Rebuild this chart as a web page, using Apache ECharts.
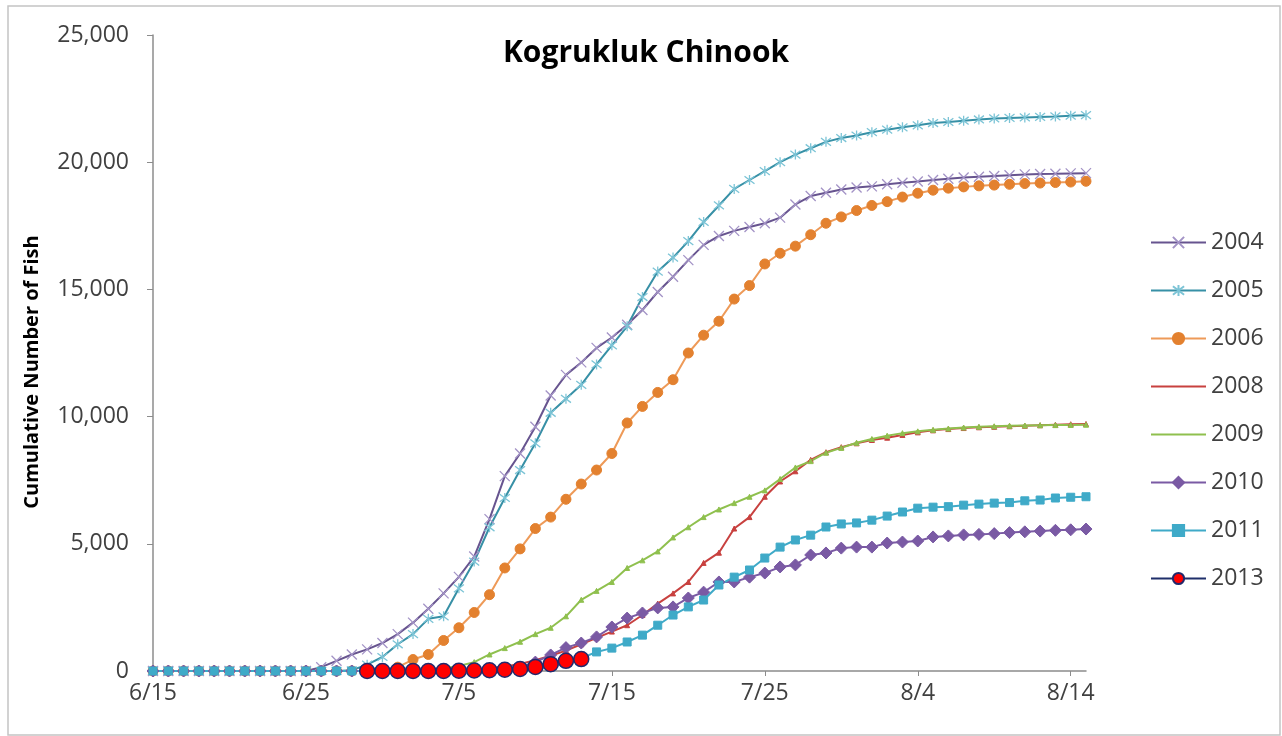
<!DOCTYPE html>
<html>
<head>
<meta charset="utf-8">
<title>Kogrukluk Chinook</title>
<script src="https://cdn.jsdelivr.net/npm/echarts@6.0.0/dist/echarts.min.js"></script>
<style>
  html, body { margin: 0; padding: 0; background: #fff; }
  #chart { width: 1282px; height: 736px; }
</style>
</head>
<body>
<div id="chart"></div>
<script>
// daily categories 6/15 .. 8/15
const dates = [
  "6/15", "6/16", "6/17", "6/18", "6/19", "6/20", "6/21", "6/22", "6/23", "6/24",
  "6/25", "6/26", "6/27", "6/28", "6/29", "6/30", "7/1", "7/2", "7/3", "7/4",
  "7/5", "7/6", "7/7", "7/8", "7/9", "7/10", "7/11", "7/12", "7/13", "7/14",
  "7/15", "7/16", "7/17", "7/18", "7/19", "7/20", "7/21", "7/22", "7/23", "7/24",
  "7/25", "7/26", "7/27", "7/28", "7/29", "7/30", "7/31", "8/1", "8/2", "8/3",
  "8/4", "8/5", "8/6", "8/7", "8/8", "8/9", "8/10", "8/11", "8/12", "8/13",
  "8/14", "8/15",
];

const years = ["2004", "2005", "2006", "2008", "2009", "2010", "2011", "2013"];

const y2004 = [
  0, 0, 0, 0, 0, 0, 0, 0, 0, 0,
  0, 150, 400, 650, 850, 1100, 1450, 1900, 2450, 3050,
  3700, 4500, 5970, 7660, 8550, 9600, 10830, 11640, 12130, 12700,
  13110, 13610, 14190, 14900, 15500, 16150, 16750, 17100, 17300, 17450,
  17600, 17820, 18340, 18670, 18800, 18930, 19005, 19050, 19130, 19190,
  19240, 19300, 19350, 19400, 19430, 19460, 19490, 19520, 19535, 19545,
  19560, 19570,
];
const y2005 = [
  0, 0, 0, 0, 0, 0, 0, 0, 0, 0,
  0, 0, 0, 30, 250, 550, 1050, 1450, 2050, 2150,
  3250, 4300, 5650, 6800, 7900, 8950, 10150, 10700, 11250, 12050,
  12800, 13550, 14700, 15700, 16250, 16900, 17650, 18300, 18950, 19300,
  19650, 20000, 20300, 20550, 20800, 20950, 21050, 21180, 21280, 21370,
  21450, 21540, 21580, 21630, 21680, 21720, 21740, 21760, 21780, 21800,
  21830, 21850,
];
const y2006 = [
  0, 0, 0, 0, 0, 0, 0, 0, 0, 0,
  0, 0, 0, 0, 0, 0, 150, 450, 650, 1200,
  1700, 2300, 3000, 4050, 4800, 5600, 6050, 6750, 7350, 7900,
  8550, 9750, 10400, 10950, 11450, 12500, 13200, 13750, 14620, 15150,
  16000, 16420, 16700, 17150, 17600, 17850, 18100, 18300, 18450, 18630,
  18780, 18900, 18980, 19030, 19070, 19100, 19130, 19160, 19180, 19200,
  19220, 19250,
];
const y2008 = [
  0, 0, 0, 0, 0, 0, 0, 0, 0, 0,
  0, 0, 0, 0, 0, 0, 0, 0, 0, 0,
  30, 60, 100, 180, 280, 420, 600, 800, 1050, 1300,
  1550, 1800, 2200, 2650, 3050, 3500, 4250, 4650, 5600, 6050,
  6850, 7450, 7850, 8300, 8600, 8800, 8950, 9080, 9170, 9280,
  9380, 9460, 9510, 9550, 9580, 9600, 9620, 9640, 9660, 9680,
  9700, 9710,
];
const y2009 = [
  0, 0, 0, 0, 0, 0, 0, 0, 0, 0,
  0, 0, 0, 0, 0, 0, 0, 0, 50, 100,
  200, 350, 650, 900, 1150, 1450, 1700, 2150, 2800, 3150,
  3500, 4050, 4350, 4700, 5250, 5650, 6050, 6350, 6600, 6850,
  7100, 7550, 8000, 8250, 8580, 8770, 8970, 9120, 9250, 9350,
  9420, 9480, 9530, 9570, 9600, 9620, 9640, 9650, 9660, 9665,
  9670, 9680,
];
const y2010 = [
  0, 0, 0, 0, 0, 0, 0, 0, 0, 0,
  0, 0, 0, 0, 0, 0, 0, 0, 0, 0,
  0, 0, 0, 50, 150, 350, 630, 920, 1100, 1340,
  1730, 2080, 2280, 2480, 2520, 2870, 3100, 3500, 3500, 3690,
  3850, 4090, 4170, 4560, 4640, 4830, 4870, 4870, 5030, 5070,
  5110, 5270, 5310, 5350, 5370, 5400, 5440, 5470, 5500, 5530,
  5550, 5580,
];
const y2011 = [
  0, 0, 0, 0, 0, 0, 0, 0, 0, 0,
  0, 0, 0, 0, 0, 0, 0, 0, 0, 0,
  0, 0, 0, 0, 30, 80, 150, 300, 500, 750,
  900, 1140, 1410, 1800, 2200, 2520, 2790, 3380, 3690, 3970,
  4440, 4870, 5150, 5340, 5660, 5780, 5820, 5930, 6090, 6250,
  6400, 6440, 6460, 6520, 6560, 6600, 6620, 6690, 6720, 6800,
  6830, 6850,
];
// 2013 season only runs 6/29 .. 7/13
const y2013 = [
  null, null, null, null, null, null, null, null, null, null,
  null, null, null, null, 0, 0, 0, 0, 0, 0,
  10, 20, 30, 50, 80, 160, 270, 400, 470,
];

const yTicks = [0, 5000, 10000, 15000, 20000, 25000];

const FONT = "'Open Sans', 'Noto Sans', sans-serif";

// x and asterisk markers as stroked paths
const xMark = "path://M0,0L10,10M10,0L0,10";
const starMark = "path://M0,0L10,10M10,0L0,10M5,-1.5L5,11.5";

const makeSeries = (name, data, lineColor, symbol, symbolColor, symbolSize, extra) => ({
  name,
  type: "line",
  data,
  symbol,
  symbolSize,
  showSymbol: true,
  showAllSymbol: true,
  animation: false,
  lineStyle: { color: lineColor, width: 2 },
  itemStyle: Object.assign(
    { color: symbolColor, borderColor: symbolColor, borderWidth: 1 },
    extra || {}
  ),
  emphasis: { disabled: true },
});

const chart = echarts.init(document.getElementById("chart"));

const option = {
  backgroundColor: "#ffffff",
  animation: false,
  grid: { left: 153, right: 196, top: 35, bottom: 65 },
  legend: {
    orient: "vertical",
    left: 1145,
    top: 226,
    itemWidth: 55,
    itemHeight: 14,
    itemGap: 25,
    data: [
      { name: "2004" },
      { name: "2005" },
      { name: "2006" },
      { name: "2008", itemStyle: { opacity: 0 } },
      { name: "2009", itemStyle: { opacity: 0 } },
      { name: "2010" },
      { name: "2011" },
      { name: "2013" },
    ],
    textStyle: { fontFamily: FONT, fontSize: 23, color: "#404040", lineHeight: 23 },
  },
  xAxis: {
    type: "category",
    data: dates,
    boundaryGap: false,
    axisLine: { lineStyle: { color: "#8c8c8c", width: 1.5 } },
    axisTick: { interval: 9, length: 5, lineStyle: { color: "#8c8c8c" } },
    axisLabel: {
      interval: 9,
      margin: 11,
      fontFamily: FONT,
      fontSize: 23,
      color: "#404040",
    },
    splitLine: { show: false },
  },
  yAxis: {
    type: "value",
    min: yTicks[0],
    max: yTicks[yTicks.length - 1],
    interval: yTicks[1] - yTicks[0],
    axisLine: { show: true, lineStyle: { color: "#8c8c8c", width: 1.5 } },
    axisTick: { show: true, length: 6, lineStyle: { color: "#8c8c8c" } },
    axisLabel: {
      margin: 24,
      fontFamily: FONT,
      fontSize: 23,
      color: "#404040",
      formatter: (v) => v.toLocaleString("en-US"),
    },
    splitLine: { show: false },
  },
  graphic: [
    {
      type: "rect",
      shape: { x: 8, y: 6, width: 1272, height: 729 },
      style: { fill: null, stroke: "#c4c4c4", lineWidth: 1.5 },
      silent: true,
    },
    {
      type: "text",
      x: 646,
      y: 53,
      style: {
        text: "Kogrukluk Chinook",
        font: "bold 30px " + FONT,
        fill: "#000000",
        textAlign: "center",
        textVerticalAlign: "middle",
      },
      silent: true,
    },
    {
      type: "text",
      x: 32,
      y: 372,
      rotation: Math.PI / 2,
      style: {
        text: "Cumulative Number of Fish",
        font: "bold 20px " + FONT,
        fill: "#000000",
        textAlign: "center",
        textVerticalAlign: "middle",
      },
      silent: true,
    },
  ],
  series: [
    makeSeries("2004", y2004, "#67548f", xMark, "#a393c6", 10, { borderWidth: 1.3 }),
    makeSeries("2005", y2005, "#3790a6", starMark, "#7cc4d6", 10, { borderWidth: 1.3 }),
    makeSeries("2006", y2006, "#ee9a58", "circle", "#e3812f", 10),
    makeSeries("2008", y2008, "#c8413f", "triangle", "#c8413f", 5),
    makeSeries("2009", y2009, "#8fc04e", "triangle", "#8fc04e", 5),
    makeSeries("2010", y2010, "#7a5aa4", "diamond", "#7a5aa4", 12),
    makeSeries("2011", y2011, "#3faac8", "rect", "#3faac8", 8),
    makeSeries("2013", y2013, "#1f2f6a", "circle", "#ff0000", 15, {
      borderColor: "#23286b",
      borderWidth: 1.5,
    }),
  ],
};

chart.setOption(option);
</script>
</body>
</html>
